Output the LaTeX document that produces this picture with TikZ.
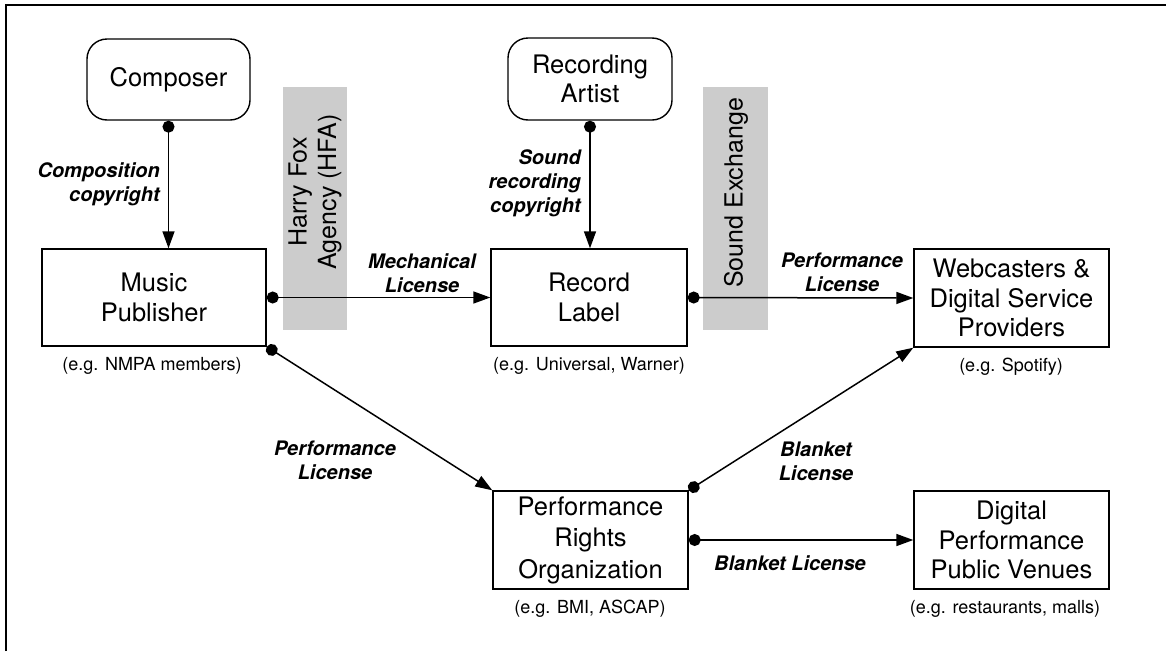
\documentclass[tikz,border=0pt]{standalone}
\usepackage{fontspec}
\setmainfont{TeX Gyre Heros}
\usetikzlibrary{arrows.meta}
\begin{document}
\begin{tikzpicture}[x=1pt,y=-1pt,
  box/.style={draw, line width=1.4pt, align=center, inner sep=0pt,
    font=\fontsize{25.5}{29.5}\selectfont},
  rbox/.style={box, rounded corners=20pt},
  graybar/.style={fill=black!20, draw=none, inner sep=0pt},
  bartext/.style={rotate=90, align=center, inner sep=0pt,
    font=\fontsize{25}{29.5}\selectfont},
  lbl/.style={align=center, inner sep=0pt,
    font=\fontsize{20}{24}\selectfont\bfseries\itshape},
  sub/.style={inner sep=0pt, font=\fontsize{18}{22}\selectfont},
  conn/.style={line width=1.5pt, {Circle[length=12pt]}-{Triangle[length=17pt,width=12pt]}}
]
\useasboundingbox (0,0) rectangle (1166,651);
\draw[line width=2pt] (5.5,651) -- (5.5,5) -- (1166,5);

% gray bars
\node[graybar, minimum width=64pt, minimum height=243pt] (hfabar) at (315,208.5) {};
\node[bartext] (hfa) at (315,192) {Harry Fox\\Agency (HFA)};
\node[graybar, minimum width=65pt, minimum height=243pt] (sxbar) at (735.5,208.5) {};
\node[bartext] (sx) at (736,193) {Sound Exchange};

% boxes
\node[rbox, minimum width=163pt, minimum height=81pt] (composer) at (168.5,79.5) {Composer};
\node[rbox, minimum width=164pt, minimum height=82pt] (artist) at (590,79) {Recording\\Artist};
\node[box, minimum width=224pt, minimum height=97pt] (publisher) at (154,297.5) {Music\\Publisher};
\node[box, minimum width=196pt, minimum height=97pt] (label) at (589,297.5) {Record\\Label};
\node[box, minimum width=195pt, minimum height=98pt] (web) at (1011.5,298) {Webcasters \&\\Digital Service\\Providers};
\node[box, minimum width=195pt, minimum height=98pt] (pro) at (590.5,540) {Performance\\[2pt]Rights\\[2pt]Organization};
\node[box, minimum width=195pt, minimum height=98pt] (venue) at (1011.5,540) {Digital\\Performance\\Public Venues};

% sub captions
\node[sub] (pubsub) at (152,366) {(e.g. NMPA members)};
\node[sub] (labsub) at (589,366) {(e.g. Universal, Warner)};
\node[sub] (websub) at (1011,367) {(e.g. Spotify)};
\node[sub] (prosub) at (590,609) {(e.g. BMI, ASCAP)};
\node[sub] (vensub) at (1005,609) {(e.g. restaurants, malls)};

% connectors
\draw[conn] (composer.south) -- (composer.south |- publisher.north);
\draw[conn] (artist.south) -- (artist.south |- label.north);
\draw[conn] (publisher.east) -- (label.west);
\draw[conn] (label.east) -- (web.west);
\draw[conn] (publisher.south east) -- (pro.north west);
\draw[conn] (pro.north east) -- (web.south west);
\draw[conn] (pro.east) -- (venue.west);

% connector labels
\node[lbl, align=right, anchor=east] (l1) at (160,184) {Composition\\copyright};
\node[lbl, align=right, anchor=east] (l2) at (581,183) {Sound\\recording\\copyright};
\node[lbl] (l3) at (422,273.5) {Mechanical\\License};
\node[lbl] (l4) at (842,272.5) {Performance\\License};
\node[lbl] (l5) at (335,460.5) {Performance\\License};
\node[lbl] (l6) at (816,461.5) {Blanket\\License};
\node[lbl] (l7) at (790,563) {Blanket License};
\end{tikzpicture}
\end{document}
